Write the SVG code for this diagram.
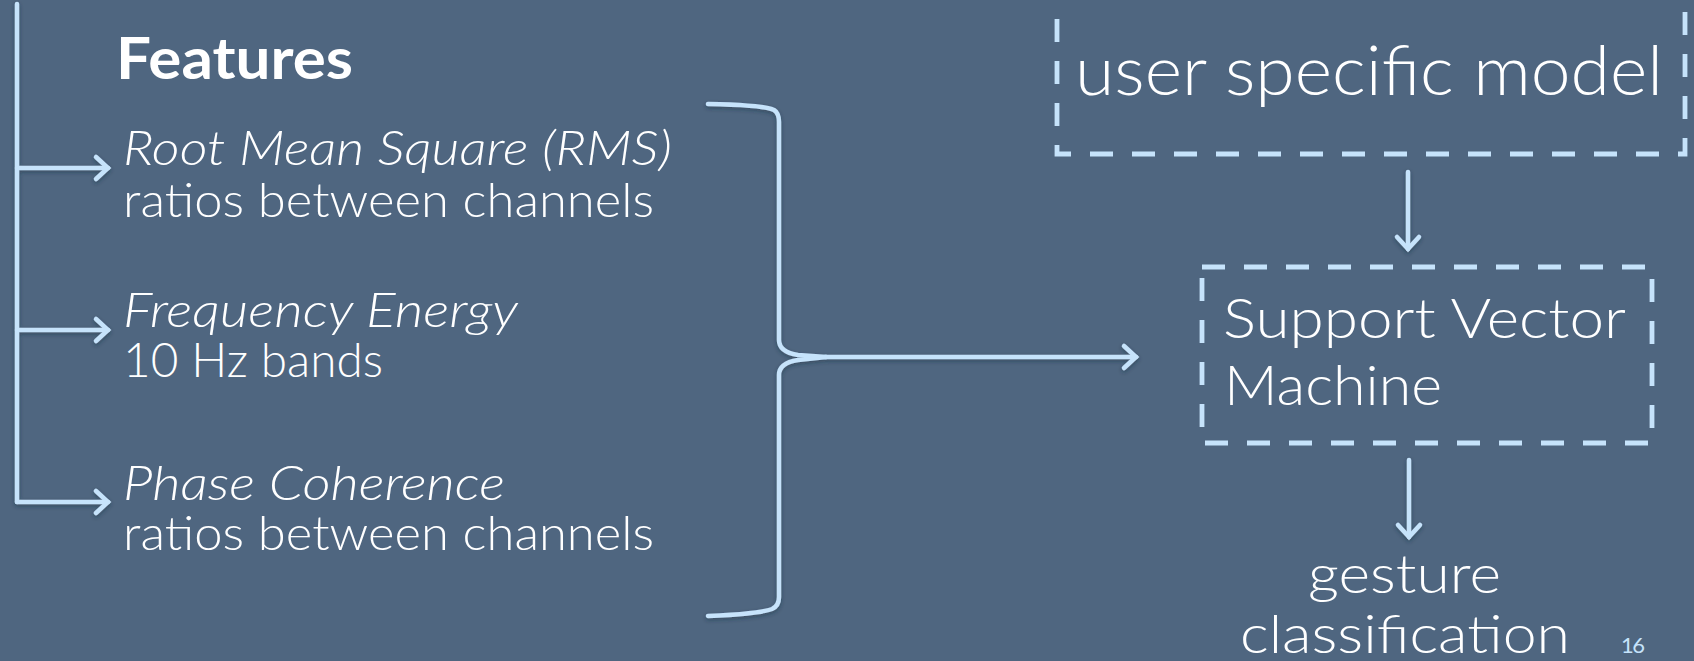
<svg xmlns="http://www.w3.org/2000/svg" width="1694" height="661" viewBox="0 0 1694 661">
  <defs>
    <style>
      .bg { fill: #4f6680; }
      .line { fill: none; stroke: #c6e3fb; stroke-width: 4.5; stroke-linecap: round; stroke-linejoin: round; }
      .dash { fill: none; stroke: #c6e3fb; stroke-width: 4.8; stroke-dasharray: 23 19; }
      .txt { fill: #ffffff; font-family: "Lato", "Liberation Sans", sans-serif; font-weight: 300; }
      .bold { font-weight: 700; }
      .ital { font-style: italic; }
      .page { fill: #c6e3fb; font-family: "Lato", "Liberation Sans", sans-serif; font-size: 22px; }
    </style>
    <marker id="chev" markerUnits="userSpaceOnUse" markerWidth="40" markerHeight="40" viewBox="-20 -20 40 40" refX="0" refY="0" orient="auto">
      <path d="M -12,-11 L 0,0 L -12,11" fill="none" stroke="#c6e3fb" stroke-width="4.5" stroke-linecap="round" stroke-linejoin="miter"/>
    </marker>
    <filter id="shadow" x="-10%" y="-10%" width="120%" height="120%">
      <feDropShadow dx="0" dy="2" stdDeviation="2" flood-color="#1e2a38" flood-opacity="0.45"/>
    </filter>
  </defs>

  <rect class="bg" x="0" y="0" width="1694" height="661"/>

  <!-- connectors -->
  <g id="connectors" filter="url(#shadow)">
    <!-- feature tree -->
    <path class="line" d="M 17,4 L 17,502"/>
    <path class="line" d="M 17,168 L 108,168" marker-end="url(#chev)"/>
    <path class="line" d="M 17,330 L 108,330" marker-end="url(#chev)"/>
    <path class="line" d="M 17,502 L 108,502" marker-end="url(#chev)"/>
    <!-- curly brace gathering the features -->
    <path class="line" d="M 708,104 Q 764,105 774,110 Q 779,113 779,122 L 779,340 Q 779,352 798,355 L 826,357"/>
    <path class="line" d="M 826,357 L 798,360 Q 779,363 779,375 L 779,597 Q 779,606 772,609 Q 758,614 708,616"/>
    <!-- features into the classifier -->
    <path class="line" d="M 826,357 L 1136,357" marker-end="url(#chev)"/>
    <!-- model into the classifier -->
    <path class="line" d="M 1408,172 L 1408,249" marker-end="url(#chev)"/>
    <!-- classifier output -->
    <path class="line" d="M 1409,460 L 1409,537" marker-end="url(#chev)"/>
  </g>

  <g id="features-title">
    <text class="txt bold" x="116" y="79" font-size="58" textLength="237" lengthAdjust="spacingAndGlyphs">Features</text>
  </g>

  <g id="feature-rms">
    <text class="txt ital" x="123" y="165" font-size="47" textLength="549" lengthAdjust="spacingAndGlyphs">Root Mean Square (RMS)</text>
    <text class="txt" x="123" y="217" font-size="47" textLength="531" lengthAdjust="spacingAndGlyphs">ratios between channels</text>
  </g>

  <g id="feature-frequency">
    <text class="txt ital" x="123" y="327" font-size="47" textLength="395" lengthAdjust="spacingAndGlyphs">Frequency Energy</text>
    <text class="txt" x="123" y="377" font-size="47" textLength="260" lengthAdjust="spacingAndGlyphs">10 Hz bands</text>
  </g>

  <g id="feature-phase">
    <text class="txt ital" x="123" y="500" font-size="47" textLength="382" lengthAdjust="spacingAndGlyphs">Phase Coherence</text>
    <text class="txt" x="123" y="550" font-size="47" textLength="531" lengthAdjust="spacingAndGlyphs">ratios between channels</text>
  </g>

  <g id="user-model">
    <rect class="dash" x="1057" y="-32" width="628" height="186"/>
    <text class="txt" x="1075" y="95" font-size="68" textLength="588" lengthAdjust="spacingAndGlyphs">user specific model</text>
  </g>

  <g id="svm">
    <rect class="dash" x="1202" y="267" width="450" height="176"/>
    <text class="txt" x="1223" y="338" font-size="56" textLength="403" lengthAdjust="spacingAndGlyphs">Support Vector</text>
    <text class="txt" x="1224" y="405" font-size="56" textLength="218" lengthAdjust="spacingAndGlyphs">Machine</text>
  </g>

  <g id="gesture-classification">
    <text class="txt" x="1308" y="593" font-size="54" textLength="193" lengthAdjust="spacingAndGlyphs">gesture</text>
    <text class="txt" x="1240" y="653" font-size="54" textLength="330" lengthAdjust="spacingAndGlyphs">classification</text>
  </g>

  <g id="page-number">
    <text class="page" x="1621" y="653" textLength="24" lengthAdjust="spacing">16</text>
  </g>
</svg>
